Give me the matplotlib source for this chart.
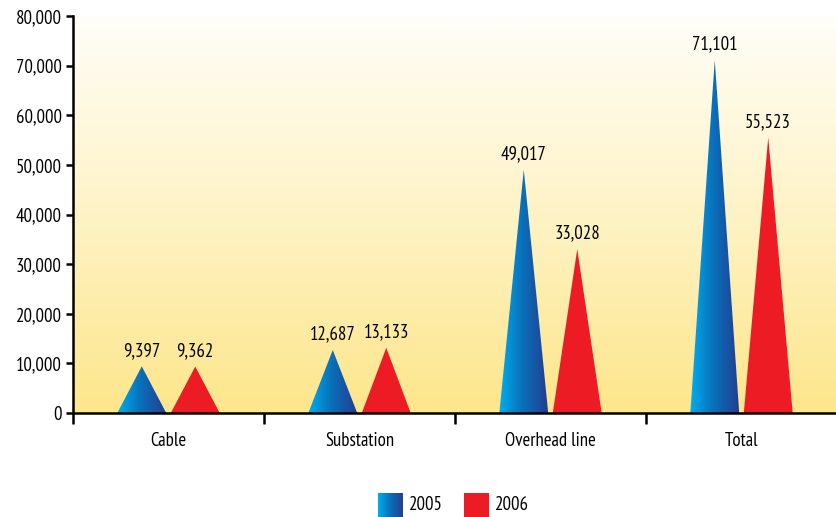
import numpy as np
import matplotlib
matplotlib.use("Agg")
import matplotlib.pyplot as plt
from matplotlib.patches import Polygon
from matplotlib.colors import LinearSegmentedColormap

categories = ["Cable", "Substation", "Overhead line", "Total"]
years = ["2005", "2006"]
values_2005 = [9397, 12687, 49017, 71101]
values_2006 = [9362, 13133, 33028, 55523]
y_ticks = [0, 10000, 20000, 30000, 40000, 50000, 60000, 70000, 80000]

plt.rcParams["font.family"] = ["PT Sans Narrow", "DejaVu Sans"]
FS = 13.5

blue_cmap = LinearSegmentedColormap.from_list("blue_grad", ["#00AEEF", "#0A6DB8", "#233E92"])
bg_cmap = LinearSegmentedColormap.from_list("bg_grad", ["#FDE68B", "#FEF3C6", "#FFFEF9"])
red = "#ED1C24"

fig = plt.figure(figsize=(8.37, 5.17), dpi=100)
ax = fig.add_axes([73 / 837, 1 - 413 / 517, 1 - 73 / 837, (413 - 16) / 517])
ax.set_xlim(0, 4)
ax.set_ylim(0, 80000)

# background gradient
grad = np.linspace(0, 1, 256).reshape(-1, 1)
ax.imshow(grad, cmap=bg_cmap, aspect="auto", extent=(0, 4, 0, 80000),
          origin="lower", zorder=0)

offset = 0.14
half_w = 0.128
hgrad = np.linspace(0, 1, 256).reshape(1, -1)

for i, (v5, v6) in enumerate(zip(values_2005, values_2006)):
    # 2005: gradient-filled cone
    c5 = i + 0.5 - offset
    tri5 = Polygon([(c5 - half_w, 0), (c5, v5), (c5 + half_w, 0)],
                   closed=True, facecolor="none", edgecolor="none")
    ax.add_patch(tri5)
    im = ax.imshow(hgrad, cmap=blue_cmap, aspect="auto",
                   extent=(c5 - half_w, c5 + half_w, 0, v5), zorder=2)
    im.set_clip_path(tri5)
    ax.text(c5, v5 + 1300, f"{v5:,}", ha="center", va="bottom", fontsize=FS)

    # 2006: solid red cone
    c6 = i + 0.5 + offset
    tri6 = Polygon([(c6 - half_w, 0), (c6, v6), (c6 + half_w, 0)],
                   closed=True, facecolor=red, edgecolor="none", zorder=2)
    ax.add_patch(tri6)
    ax.text(c6, v6 + 1300, f"{v6:,}", ha="center", va="bottom", fontsize=FS)

ax.set_xlim(0, 4)
ax.set_ylim(0, 80000)

for s in ["top", "right"]:
    ax.spines[s].set_visible(False)
ax.spines["left"].set_linewidth(1.8)
ax.spines["bottom"].set_linewidth(1.8)

ax.set_yticks(y_ticks)
ax.set_yticklabels([f"{t:,}" for t in y_ticks], fontsize=FS)
ax.tick_params(axis="y", length=5, width=1.8, pad=3)

ax.set_xticks([0, 1, 2, 3, 4])
ax.set_xticklabels([])
ax.tick_params(axis="x", which="major", length=8, width=1.8, direction="out")
ax.set_xticks([0.5, 1.5, 2.5, 3.5], minor=True)
ax.set_xticklabels(categories, minor=True, fontsize=FS)
ax.tick_params(axis="x", which="minor", length=0, pad=14)

# legend swatches
sw_w, sw_h = 25 / 837, 24 / 517
lax1 = fig.add_axes([378 / 837, 0, sw_w, sw_h])
lax1.imshow(hgrad, cmap=blue_cmap, aspect="auto")
lax1.axis("off")
fig.text(409 / 837, 1 - 505 / 517, years[0], fontsize=FS, va="center", ha="left")
lax2 = fig.add_axes([464 / 837, 0, sw_w, sw_h])
lax2.set_facecolor(red)
lax2.set_xticks([])
lax2.set_yticks([])
for s in lax2.spines.values():
    s.set_visible(False)
fig.text(495 / 837, 1 - 505 / 517, years[1], fontsize=FS, va="center", ha="left")

fig.savefig("out.png", dpi=100)
